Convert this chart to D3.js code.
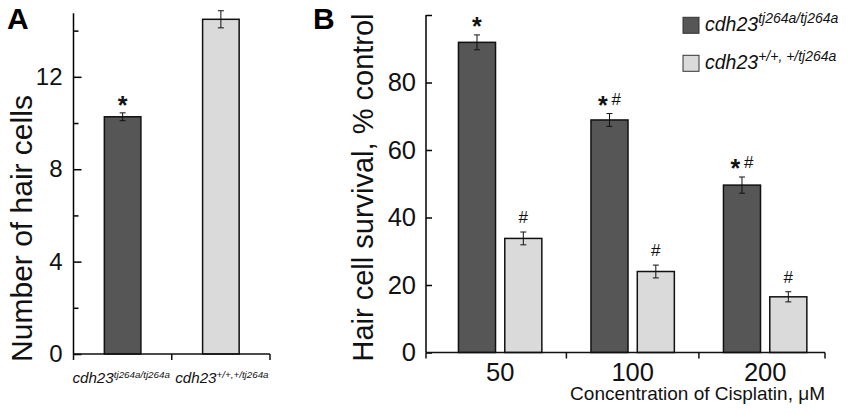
<!DOCTYPE html>
<html>
<head>
<meta charset="utf-8">
<script src="https://cdn.jsdelivr.net/npm/d3@7"></script>
<style>
  body { margin: 0; background: #fff; }
  text { font-family: "Liberation Sans", Arial, sans-serif; }
</style>
</head>
<body>
<div id="chart"></div>
<script>
// 1. DATA
// panel A - number of hair cells per neuromast
const genotypesA = ["tj264a/tj264a", "+/+,+/tj264a"]
const hairCells = [10.27, 14.49]
const hairCellsErr = [0.17, 0.37]
const marksA = ["*", ""]
const ticksA = [0, 4, 8, 12]
const minorTicksA = [2, 6, 10, 14]

// panel B - survival after cisplatin
const concentrations = ["50", "100", "200"]
const seriesB = ["tj264a/tj264a", "+/+, +/tj264a"]
const mutantSurvival = [91.9, 68.9, 49.6]
const mutantErr = [2.2, 1.9, 2.4]
const wildSurvival = [33.8, 24.0, 16.5]
const wildErr = [1.9, 1.9, 1.5]
const mutantMarks = ["*", "*#", "*#"]
const wildMarks = ["#", "#", "#"]
const ticksB = [0, 20, 40, 60, 80, 100]

const darkFill = "#565656"
const lightFill = "#dadada"

// 2. DIMENSIONS
const width = 850, height = 413

const svg = d3.select("#chart").append("svg")
    .attr("width", width)
    .attr("height", height)

// helper: "cdh23" + superscript genotype
function genotypeLabel(sel, sup, baseSize, supSize, rise) {
  sel.append("tspan").text("cdh23").style("font-size", baseSize + "px")
  sel.append("tspan").text(sup)
      .attr("dy", -rise)
      .style("font-size", supSize + "px")
}

// significance marks, asterisk dropped so its bottom sits on the baseline
function drawMarks(sel, str) {
  let shift = 0
  str.split("").forEach((c, i) => {
    const down = c === "*" ? 9 : 0
    sel.append("tspan")
        .attr("dx", i > 0 ? 4 : 0)
        .attr("dy", down - shift)
        .style("font-size", c === "*" ? "25px" : "17px")
        .style("font-weight", c === "*" ? "bold" : "normal")
        .text(c)
    shift = down
  })
}

// ================= PANEL A =================
const yA = d3.scaleLinear().domain([0, 14.75]).range([354, 13.3])
const xA = d3.scaleBand().domain(genotypesA).range([73.5, 270])
    .paddingInner(0.628).paddingOuter(0.314)
const boundaryA = d3.scaleBand().domain(genotypesA).range([73.5, 270])

const gA = svg.append("g")

gA.selectAll("rect.bar")
    .data(genotypesA)
  .enter().append("rect")
    .attr("class", "bar")
    .attr("x", d => xA(d))
    .attr("y", (d, i) => yA(hairCells[i]))
    .attr("width", xA.bandwidth())
    .attr("height", (d, i) => yA(0) - yA(hairCells[i]))
    .attr("fill", (d, i) => i === 0 ? darkFill : lightFill)
    .attr("stroke", "#111")
    .attr("stroke-width", 1.5)

// error bars
genotypesA.forEach((g, i) => {
  const cx = xA(g) + xA.bandwidth() / 2
  const lo = yA(hairCells[i] - hairCellsErr[i]), hi = yA(hairCells[i] + hairCellsErr[i])
  const e = gA.append("g").attr("stroke", "#111").attr("stroke-width", 1)
  e.append("line").attr("x1", cx).attr("x2", cx).attr("y1", lo).attr("y2", hi)
  e.append("line").attr("x1", cx - 3).attr("x2", cx + 3).attr("y1", lo).attr("y2", lo)
  e.append("line").attr("x1", cx - 3).attr("x2", cx + 3).attr("y1", hi).attr("y2", hi)
  if (marksA[i]) {
    const t = gA.append("text")
        .attr("x", cx).attr("y", hi - 8)
        .attr("text-anchor", "middle")
        .attr("fill", "#111")
    drawMarks(t, marksA[i])
  }
})

// y axis A (ticks pointing inward)
const yAxisA = gA.append("g")
    .attr("transform", "translate(73.5,0)")
    .call(d3.axisLeft(yA).tickValues(ticksA).tickSize(-8).tickPadding(11))
yAxisA.select(".domain").attr("d", `M0,${yA(0)}V${yA(14.75)}`).attr("stroke-width", 1.5)
yAxisA.selectAll(".tick line").attr("stroke-width", 1.5)
yAxisA.selectAll("text").style("font-size", "24px").attr("fill", "#111")

gA.append("g")
    .attr("transform", "translate(73.5,0)")
    .call(d3.axisLeft(yA).tickValues(minorTicksA).tickSize(-5).tickFormat(""))
    .call(g => g.select(".domain").remove())
    .selectAll(".tick line").attr("stroke-width", 1.5)

// x axis A
const xAxisA = gA.append("g")
    .attr("transform", `translate(0,${yA(0)})`)
xAxisA.append("line")
    .attr("x1", 73.5).attr("x2", 270).attr("stroke", "#111").attr("stroke-width", 1.5)
const bordersA = [boundaryA(genotypesA[0]), boundaryA(genotypesA[1]), 270]
xAxisA.selectAll("line.sep")
    .data(bordersA)
  .enter().append("line")
    .attr("class", "sep")
    .attr("x1", d => d).attr("x2", d => d)
    .attr("y1", 0).attr("y2", 6)
    .attr("stroke", "#111").attr("stroke-width", 1.5)

genotypesA.forEach((g, i) => {
  const t = gA.append("text")
      .attr("x", boundaryA(g) + boundaryA.bandwidth() / 2 + (i === 0 ? -1.5 : 1))
      .attr("y", 383)
      .attr("text-anchor", "middle")
      .style("font-style", "italic")
      .attr("fill", "#111")
  genotypeLabel(t, g, 15.2, 9.8, 5)
})

gA.append("text")
    .attr("transform", "translate(31.5,228.5) rotate(-90)")
    .attr("text-anchor", "middle")
    .style("font-size", "30px")
    .attr("fill", "#111")
    .text("Number of hair cells")

svg.append("text")
    .attr("x", 7).attr("y", 28.5)
    .style("font-size", "30px").style("font-weight", "bold")
    .text("A")

// ================= PANEL B =================
const yB = d3.scaleLinear().domain([0, 100]).range([352.5, 15])
const x0 = d3.scaleBand().domain(concentrations).range([433.9, 831.4])
const x1 = d3.scaleBand().domain(seriesB).range([0, x0.bandwidth()])
    .paddingInner(0.2).paddingOuter(0.53)

const gB = svg.append("g")

const rowsB = concentrations.map((c, i) => [
  { c, s: seriesB[0], v: mutantSurvival[i], e: mutantErr[i], m: mutantMarks[i], fill: darkFill },
  { c, s: seriesB[1], v: wildSurvival[i], e: wildErr[i], m: wildMarks[i], fill: lightFill }
]).flat()

gB.selectAll("rect.bar")
    .data(rowsB)
  .enter().append("rect")
    .attr("class", "bar")
    .attr("x", d => x0(d.c) + x1(d.s))
    .attr("y", d => yB(d.v))
    .attr("width", x1.bandwidth())
    .attr("height", d => yB(0) - yB(d.v))
    .attr("fill", d => d.fill)
    .attr("stroke", "#111")
    .attr("stroke-width", 1.5)

rowsB.forEach(d => {
  const cx = x0(d.c) + x1(d.s) + x1.bandwidth() / 2
  const lo = yB(d.v - d.e), hi = yB(d.v + d.e)
  const e = gB.append("g").attr("stroke", "#111").attr("stroke-width", 1)
  e.append("line").attr("x1", cx).attr("x2", cx).attr("y1", lo).attr("y2", hi)
  e.append("line").attr("x1", cx - 3).attr("x2", cx + 3).attr("y1", lo).attr("y2", lo)
  e.append("line").attr("x1", cx - 3).attr("x2", cx + 3).attr("y1", hi).attr("y2", hi)
  const t = gB.append("text")
      .attr("x", cx).attr("y", hi - 9)
      .attr("text-anchor", "middle")
      .attr("fill", "#111")
  drawMarks(t, d.m)
})

// y axis B
const yAxisB = gB.append("g")
    .attr("transform", "translate(426,0)")
    .call(d3.axisLeft(yB).tickValues(ticksB).tickSize(-6).tickPadding(10)
      .tickFormat(d => d === 100 ? "" : d))
yAxisB.select(".domain").attr("d", `M0,${yB(0)}V${yB(100)}`).attr("stroke-width", 1.5)
yAxisB.selectAll(".tick line").attr("stroke-width", 1.5)
yAxisB.selectAll("text").style("font-size", "25.5px").attr("fill", "#111")

// x axis B
const xAxisB = gB.append("g")
    .attr("transform", `translate(0,${yB(0)})`)
    .call(d3.axisBottom(x0).tickSize(0).tickPadding(10))
xAxisB.select(".domain").remove()
xAxisB.selectAll("text").style("font-size", "25.5px").attr("fill", "#111")
xAxisB.append("line")
    .attr("x1", 426).attr("x2", 825).attr("stroke", "#111").attr("stroke-width", 1.5)
const bordersB = [426, x0("100"), x0("200"), 825]
xAxisB.selectAll("line.sep")
    .data(bordersB)
  .enter().append("line")
    .attr("class", "sep")
    .attr("x1", d => d).attr("x2", d => d)
    .attr("y1", 0).attr("y2", 6)
    .attr("stroke", "#111").attr("stroke-width", 1.5)

gB.append("text")
    .attr("x", 825).attr("y", 400)
    .attr("text-anchor", "end")
    .style("font-size", "19px")
    .attr("fill", "#111")
    .text("Concentration of Cisplatin, \u03bcM")

gB.append("text")
    .attr("transform", "translate(373,187.5) rotate(-90)")
    .attr("text-anchor", "middle")
    .style("font-size", "29px")
    .attr("fill", "#111")
    .text("Hair cell survival, % control")

svg.append("text")
    .attr("x", 313).attr("y", 28.5)
    .style("font-size", "30px").style("font-weight", "bold")
    .text("B")

// legend
const legend = gB.selectAll("g.legend")
    .data(seriesB)
  .enter().append("g")
    .attr("class", "legend")
    .attr("transform", (d, i) => `translate(683,${17.3 + i * 38})`)
legend.append("rect")
    .attr("width", 16).attr("height", 16)
    .attr("fill", (d, i) => i === 0 ? darkFill : lightFill)
    .attr("stroke", "#333").attr("stroke-width", 1)
legend.append("text")
    .attr("x", 22).attr("y", 14)
    .style("font-style", "italic")
    .attr("fill", "#111")
    .each(function(d) { genotypeLabel(d3.select(this), d, 19.5, 14, 8) })
</script>
</body>
</html>
